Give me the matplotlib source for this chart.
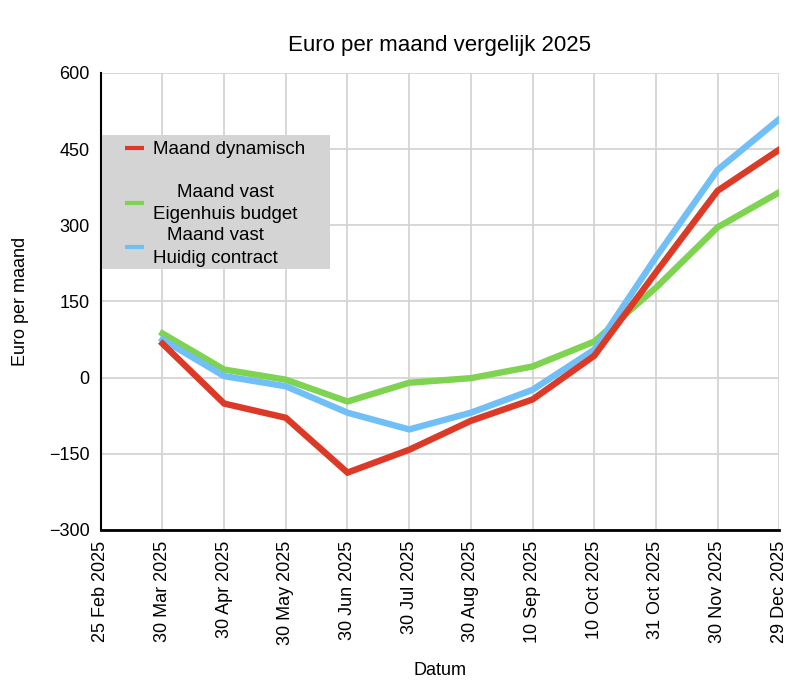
import matplotlib.pyplot as plt
from matplotlib.lines import Line2D
from matplotlib.patches import Rectangle
from matplotlib.transforms import IdentityTransform
from matplotlib.legend_handler import HandlerLine2D

plt.rcParams['font.family'] = ['Liberation Sans', 'DejaVu Sans']

datums = ['25 Feb 2025', '30 Mar 2025', '30 Apr 2025', '30 May 2025', '30 Jun 2025',
          '30 Jul 2025', '30 Aug 2025', '10 Sep 2025', '10 Oct 2025', '31 Oct 2025',
          '30 Nov 2025', '29 Dec 2025']

# eerste datum heeft geen waarde
maand_dynamisch = [None, 67, -51, -79, -187, -142, -85, -43, 43, 207, 368, 449]
vast_eigenhuis = [None, 87, 16, -4, -47, -10, -1, 22, 71, 177, 296, 365]
vast_huidig = [None, 75, 3, -17, -69, -102, -69, -24, 55, 237, 409, 509]

labels = ['Maand dynamisch', 'Maand vast\nEigenhuis budget', 'Maand vast\nHuidig contract']
kleuren = ['#dc3a26', '#7ed350', '#71bff7']
yticks = [-300, -150, 0, 150, 300, 450, 600]


class KortStreepje(HandlerLine2D):
    # alleen rechter deel van het handle-vak tekenen
    def get_xdata(self, legend, xdescent, ydescent, width, height, fontsize):
        xd, xm = super().get_xdata(legend, xdescent, ydescent, width, height, fontsize)
        return [-xdescent + width * 0.56, -xdescent + width * 0.98], xm


fig = plt.figure(figsize=(8, 6.99), dpi=100)
ax = fig.add_axes([0.126, 0.2418, 0.848, 0.6538])

x = list(range(len(datums)))
series = [maand_dynamisch, vast_eigenhuis, vast_huidig]
zorders = [5, 3, 4]
lijnen = []
for vals, lab, kl, z in zip(series, labels, kleuren, zorders):
    xs = [i for i, v in zip(x, vals) if v is not None]
    ys = [v for v in vals if v is not None]
    l, = ax.plot(xs, ys, color=kl, linewidth=4.6, label=lab, zorder=z, solid_joinstyle='miter')
    lijnen.append(l)

ax.set_xlim(0, len(datums) - 1)
ax.set_ylim(-300, 600)
ax.set_yticks(yticks)
ax.set_yticklabels([str(t).replace('-', '\u2212') for t in yticks], fontsize=13)
ax.set_xticks(x)
ax.set_xticklabels(datums, rotation=90, fontsize=13)
ax.tick_params(length=0, pad=8)
ax.grid(True, color='#d4d4d4', linewidth=1.3)
ax.set_axisbelow(True)
for s in ['top', 'right']:
    ax.spines[s].set_visible(False)
ax.spines['left'].set_linewidth(1.5)
ax.spines['bottom'].set_linewidth(2)

ax.set_title('Euro per maand vergelijk 2025', fontsize=16, pad=16)
ax.set_xlabel('Datum', fontsize=13, labelpad=12)
ax.set_ylabel('Euro per maand', fontsize=13, labelpad=14)

# lege regel tussen eerste en tweede item, zoals in het origineel
leeg = Line2D([], [], color='none')
handles = [lijnen[0], leeg, lijnen[1], lijnen[2]]
namen = [labels[0], ' ', labels[1], labels[2]]
leg = ax.legend(handles, namen, loc='upper left', bbox_to_anchor=(0.0, 0.851), frameon=False,
                fontsize=13.5, handlelength=2.35, handletextpad=0.43, borderpad=0,
                labelspacing=0.22, borderaxespad=0,
                handler_map={Line2D: KortStreepje()})
leg.set_zorder(10)
for t in leg.get_texts():
    t.set_multialignment('center')
    t.set_linespacing(1.42)
leg.get_texts()[1].set_fontsize(13)
for l in leg.get_lines():
    l.set_linewidth(3)
    l.set_solid_capstyle('butt')

# grijze achtergrond achter de legenda
fig.canvas.draw()
bb = leg.get_window_extent()
axbb = ax.get_window_extent()
vak = Rectangle((axbb.x0 + 1, bb.y0 - 2), bb.x1 + 24 - axbb.x0, bb.height + 8,
                transform=IdentityTransform(), facecolor='#d4d4d4', edgecolor='none',
                zorder=9, clip_on=False)
ax.add_artist(vak)

fig.savefig('out.png', dpi=100)
